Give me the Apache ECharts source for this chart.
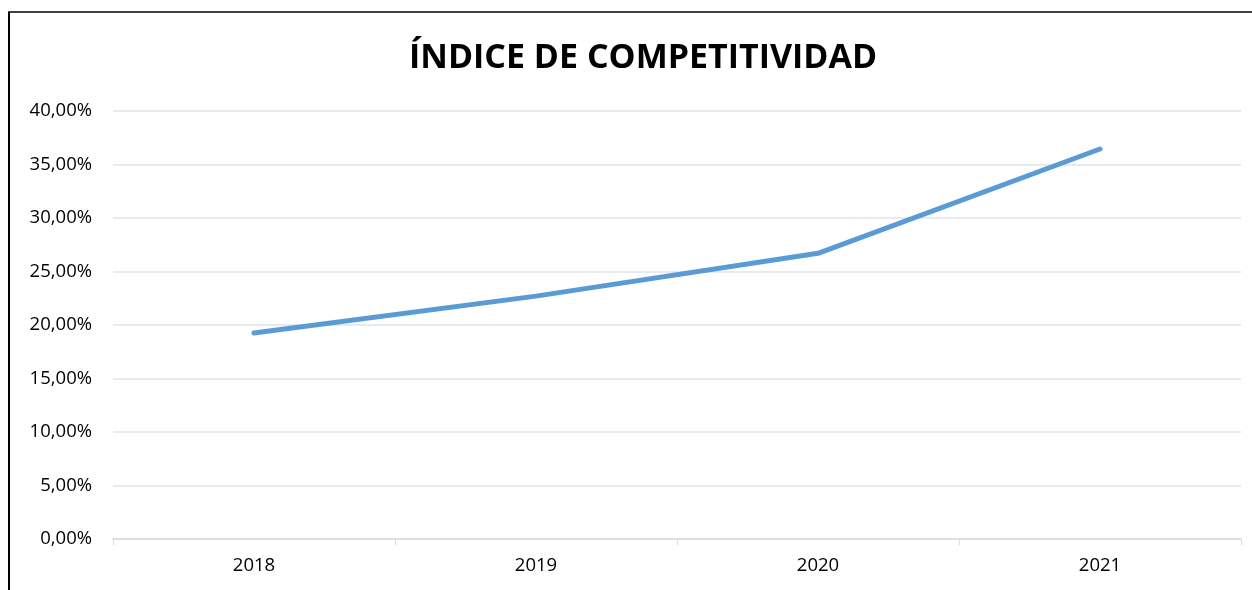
<!DOCTYPE html>
<html>
<head>
<meta charset="utf-8">
<style>
  html, body { margin: 0; padding: 0; background: #fff; }
  #chart { width: 1252px; height: 590px; }
</style>
<script src="https://cdn.jsdelivr.net/npm/echarts@6/dist/echarts.min.js"></script>
</head>
<body>
<div id="chart"></div>
<script>
// datos
var years = ['2018', '2019', '2020', '2021'];
var indice = [0.1925, 0.227, 0.267, 0.3645];
var yTicks = { min: 0, max: 0.40, step: 0.05 };

var font = '"Open Sans", "Liberation Sans", sans-serif';

function pct(v) {
  return (v * 100).toFixed(2).replace('.', ',') + '%';
}

var myChart = echarts.init(document.getElementById('chart'));
var option = {
  backgroundColor: '#ffffff',
  animation: false,
  title: {
    text: 'ÍNDICE DE COMPETITIVIDAD',
    left: 404,
    top: 36,
    textStyle: { fontFamily: font, fontSize: 34, fontWeight: 'bold', color: '#000' }
  },
  grid: { left: 113, right: 11, top: 111, bottom: 51 },
  // marco del grafico (solo izquierda y arriba visibles)
  graphic: [
    { type: 'line', shape: { x1: 9, y1: 12, x2: 9, y2: 590 }, style: { stroke: '#000', lineWidth: 2 } },
    { type: 'line', shape: { x1: 8, y1: 12, x2: 1252, y2: 12 }, style: { stroke: '#000', lineWidth: 1.5 } }
  ],
  xAxis: {
    type: 'category',
    data: years,
    axisLine: { lineStyle: { color: '#d9dde3', width: 1.5 } },
    axisTick: { show: true, length: 6, lineStyle: { color: '#d9dde3' } },
    axisLabel: { fontFamily: font, fontSize: 18.5, color: '#000', margin: 17 }
  },
  yAxis: {
    type: 'value',
    min: yTicks.min,
    max: yTicks.max,
    interval: yTicks.step,
    axisLine: { show: false },
    axisTick: { show: false },
    splitLine: { lineStyle: { color: '#dfe3e8', width: 1.5 } },
    axisLabel: {
      fontFamily: font, fontSize: 18.5, color: '#000', margin: 21,
      formatter: function (v) { return pct(v); }
    }
  },
  series: [{
    name: 'Índice de competitividad',
    type: 'line',
    data: indice,
    symbol: 'none',
    lineStyle: { color: '#5b9bd5', width: 5, cap: 'round', join: 'round' }
  }]
};
myChart.setOption(option);
</script>
</body>
</html>
